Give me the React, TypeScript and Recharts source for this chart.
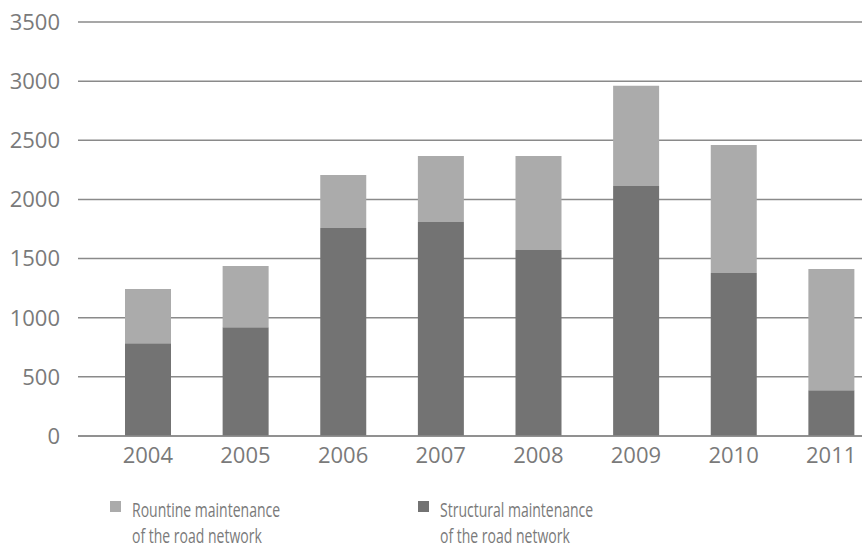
import { Bar, BarChart, CartesianGrid, XAxis, YAxis } from "recharts";

const YEARS = ["2004", "2005", "2006", "2007", "2008", "2009", "2010", "2011"];
const STRUCTURAL = [785, 920, 1758, 1809, 1572, 2114, 1377, 387];
const ROUTINE = [457, 517, 449, 559, 796, 847, 1084, 1024];
const Y_TICKS = [0, 500, 1000, 1500, 2000, 2500, 3000, 3500];

const COLORS = {
  routine: "#ababab",
  structural: "#737373",
  grid: "#8a8a8a",
  text: "#7a7a7a",
};

const FONT = "'Open Sans', 'Liberation Sans', sans-serif";

const LEGEND_ITEMS = [
  { key: "routine", lines: ["Rountine maintenance", "of the road network"], left: 110 },
  { key: "structural", lines: ["Structural maintenance", "of the road network"], left: 418 },
] as const;

const data = YEARS.map((year, i) => ({
  year,
  structural: STRUCTURAL[i],
  routine: ROUTINE[i],
}));

// the original uses a condensed face, so squeeze Open Sans horizontally
function LegendBlock() {
  return (
    <div style={{ position: "absolute", left: 0, top: 497, width: 862, height: 53, fontFamily: FONT }}>
      {LEGEND_ITEMS.map((item) => (
        <div key={item.key} style={{ position: "absolute", left: item.left, top: 0 }}>
          <span
            style={{
              position: "absolute",
              left: 0,
              top: 4,
              width: 11,
              height: 11,
              background: COLORS[item.key],
            }}
          />
          <div
            style={{
              position: "absolute",
              left: 22,
              top: 0,
              fontSize: 20,
              lineHeight: "26px",
              color: COLORS.text,
              whiteSpace: "nowrap",
              transform: "scaleX(0.7)",
              transformOrigin: "left top",
            }}
          >
            {item.lines.map((l) => (
              <div key={l}>{l}</div>
            ))}
          </div>
        </div>
      ))}
    </div>
  );
}

export default function App() {
  return (
    <div
      style={{
        position: "absolute",
        left: 0,
        top: 0,
        width: 862,
        height: 550,
        overflow: "hidden",
        background: "#fff",
      }}
    >
      <BarChart
        width={880}
        height={550}
        data={data}
        margin={{ top: 22, right: 0, left: 0, bottom: 84 }}
        barSize={46}
      >
        <CartesianGrid vertical={false} stroke={COLORS.grid} strokeWidth={1.5} />
        <XAxis
          dataKey="year"
          padding={{ left: 21, right: 0 }}
          axisLine={{ stroke: COLORS.grid, strokeWidth: 1.5 }}
          tickLine={false}
          tickMargin={5}
          height={30}
          tick={{ fill: COLORS.text, fontSize: 22, fontFamily: FONT }}
        />
        <YAxis
          width={78}
          domain={[0, 3500]}
          ticks={Y_TICKS}
          axisLine={false}
          tickLine={false}
          tickMargin={12}
          tick={{ fill: COLORS.text, fontSize: 22, fontFamily: FONT }}
        />
        <Bar
          dataKey="structural"
          stackId="m"
          fill={COLORS.structural}
          isAnimationActive={false}
        />
        <Bar dataKey="routine" stackId="m" fill={COLORS.routine} isAnimationActive={false} />
      </BarChart>
      <LegendBlock />
    </div>
  );
}
